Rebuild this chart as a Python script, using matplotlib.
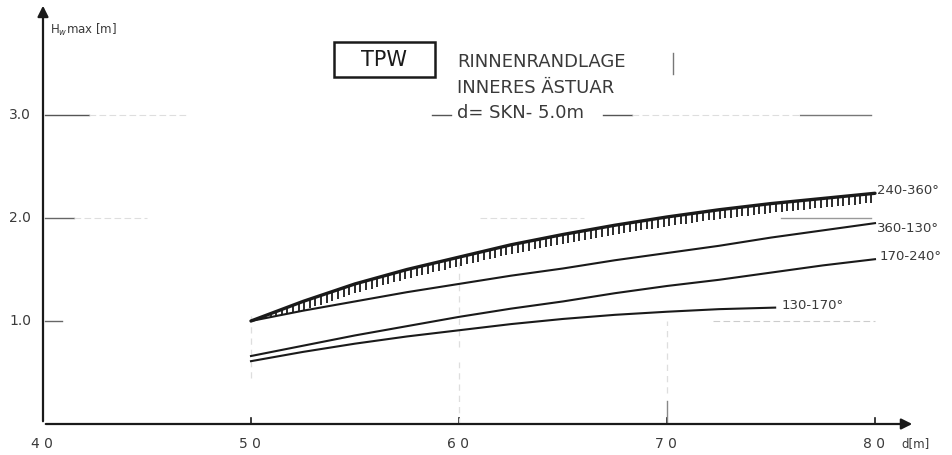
import numpy as np
import matplotlib.pyplot as plt
from matplotlib.patches import Rectangle

# wave height Hw max [m] against depth d [m], four direction sectors
d_240_360 = [50.0, 52.5, 55.0, 57.5, 60.0, 62.5, 65.0, 67.5, 70.0, 72.5, 75.0, 77.5, 80.0]
h_240_360 = [1.00, 1.19, 1.36, 1.50, 1.62, 1.74, 1.84, 1.93, 2.01, 2.08, 2.14, 2.19, 2.24]

d_360_130 = [50.0, 52.5, 55.0, 57.5, 60.0, 62.5, 65.0, 67.5, 70.0, 72.5, 75.0, 77.5, 80.0]
h_360_130 = [1.00, 1.10, 1.19, 1.28, 1.36, 1.44, 1.51, 1.59, 1.66, 1.73, 1.81, 1.88, 1.95]

d_170_240 = [50.0, 52.5, 55.0, 57.5, 60.0, 62.5, 65.0, 67.5, 70.0, 72.5, 75.0, 77.5, 80.0]
h_170_240 = [0.66, 0.76, 0.86, 0.95, 1.04, 1.12, 1.19, 1.27, 1.34, 1.40, 1.47, 1.54, 1.60]

d_130_170 = [50.0, 52.5, 55.0, 57.5, 60.0, 62.5, 65.0, 67.5, 70.0, 72.5, 75.2]
h_130_170 = [0.61, 0.70, 0.78, 0.85, 0.91, 0.97, 1.02, 1.06, 1.09, 1.115, 1.13]

sector_labels = ['240-360°', '360-130°', '170-240°', '130-170°']

xticks = [40, 50, 60, 70, 80]
xticklabels = ['4 0', '5 0', '6 0', '7 0', '8 0']
yticks = [1.0, 2.0, 3.0]
yticklabels = ['1.0', '2.0', '3.0']

ink = '#1a1a1a'
txt = '#3a3a3a'
faint = '#dedede'

fig = plt.figure(figsize=(9.52, 4.55), dpi=100)
W, H = 952, 455
# axes placed so 20.8 px per metre of d and 103 px per metre of H
x0, y0 = 43, 424
ax = fig.add_axes([x0 / W, (H - y0) / H, 870 / W, 419 / H])
ax.set_xlim(40, 40 + 870 / 20.8)
ax.set_ylim(0, 419 / 103)
ax.axis('off')

# axes drawn as arrows
ax.annotate('', xy=(40 + 872 / 20.8, 0), xytext=(40, 0), annotation_clip=False,
            arrowprops=dict(arrowstyle='-|>', color=ink, lw=1.6, mutation_scale=16))
ax.annotate('', xy=(40, 419 / 103 + 0.02), xytext=(40, 0), annotation_clip=False,
            arrowprops=dict(arrowstyle='-|>', color=ink, lw=1.6, mutation_scale=16))

for x in xticks[1:]:
    ax.plot([x, x], [-0.04, 0.06], color=ink, lw=1.2)
for y in yticks:
    ax.plot([39.75, 40], [y, y], color=ink, lw=1.2)

for x, lab in zip(xticks, xticklabels):
    ax.text(x - 0.05, -0.19, lab, ha='center', va='center', fontsize=10, color=txt)
for y, lab in zip(yticks, yticklabels):
    ax.text(38.9, y, lab, ha='center', va='center', fontsize=10, color=txt)
ax.text(81.95, -0.19, 'd[m]', ha='center', va='center', fontsize=8.5, color=txt)
ax.text(40.35, 3.83, r'H$_w$max [m]', ha='left', va='center', fontsize=8.5, color=txt)

# remains of the grid lines: darker solid stubs, faint dashed stretches
stubs = [
    (3.0, 40.1, 42.2, '#555555'), (3.0, 58.7, 59.6, '#555555'),
    (3.0, 66.9, 68.3, '#555555'), (3.0, 76.4, 79.8, '#777777'),
    (2.0, 40.1, 41.5, '#666666'), (2.0, 75.5, 79.8, '#999999'),
    (1.0, 40.1, 40.9, '#666666'),
]
for y, xa, xb, c in stubs:
    ax.plot([xa, xb], [y, y], color=c, lw=1.0)

dashes = [
    (3.0, 42.2, 47.0, faint), (3.0, 68.3, 76.4, faint),
    (2.0, 41.5, 45.0, faint), (2.0, 61.0, 66.0, faint),
    (1.0, 72.2, 80.0, '#cccccc'),
]
for y, xa, xb, c in dashes:
    ax.plot([xa, xb], [y, y], color=c, lw=0.8, ls=(0, (6, 3)))

grid_v = [
    (50.0, 0.45, 1.05), (60.0, 0.75, 1.6), (60.0, 0.0, 0.6), (70.0, 0.3, 1.0),
]
for x, ya, yb in grid_v:
    ax.plot([x, x], [ya, yb], color=faint, lw=0.9, ls=(0, (5, 4)))
ax.plot([70.0, 70.0], [0.0, 0.22], color='#888888', lw=1.0)
ax.plot([70.3, 70.3], [3.40, 3.60], color='#777777', lw=1.0)

# sector curves
ax.plot(d_240_360, h_240_360, color=ink, lw=2.4, solid_capstyle='round')
ax.plot(d_360_130, h_360_130, color=ink, lw=1.5)
ax.plot(d_170_240, h_170_240, color=ink, lw=1.5)
ax.plot(d_130_170, h_130_170, color=ink, lw=1.5)

# hatching hanging below the upper envelope
tick_x = np.arange(50.4, 80.0, 0.27)
top = np.interp(tick_x, d_240_360, h_240_360)
below = np.interp(tick_x, d_360_130, h_360_130)
bottom = np.maximum(top - 0.09, below)
ax.vlines(tick_x, bottom, top, color=ink, lw=1.3)

label_pos = [(80.1, h_240_360[-1] + 0.03), (80.1, h_360_130[-1] - 0.05),
             (80.2, h_170_240[-1] + 0.03), (75.5, h_130_170[-1] + 0.02)]
for (x, y), lab in zip(label_pos, sector_labels):
    ax.text(x, y, lab, ha='left', va='center', fontsize=9.5, color=txt)

# heading block
fig.patches.append(Rectangle((334 / W, 1 - 77 / H), 101 / W, 35 / H, transform=fig.transFigure,
                             fc='white', ec=ink, lw=1.8))
fig.text(384 / W, 1 - 60 / H, 'TPW', ha='center', va='center', fontsize=15, color=ink)
fig.text(457 / W, 1 - 62 / H, 'RINNENRANDLAGE', ha='left', va='center', fontsize=13, color=txt)
fig.text(457 / W, 1 - 88 / H, 'INNERES ÄSTUAR', ha='left', va='center', fontsize=13, color=txt)
fig.text(457 / W, 1 - 113 / H, 'd= SKN- 5.0m', ha='left', va='center', fontsize=13, color=txt,
         bbox=dict(boxstyle='square,pad=0.1', fc='white', ec='none'))

fig.savefig('out.png', dpi=100, facecolor='white')
